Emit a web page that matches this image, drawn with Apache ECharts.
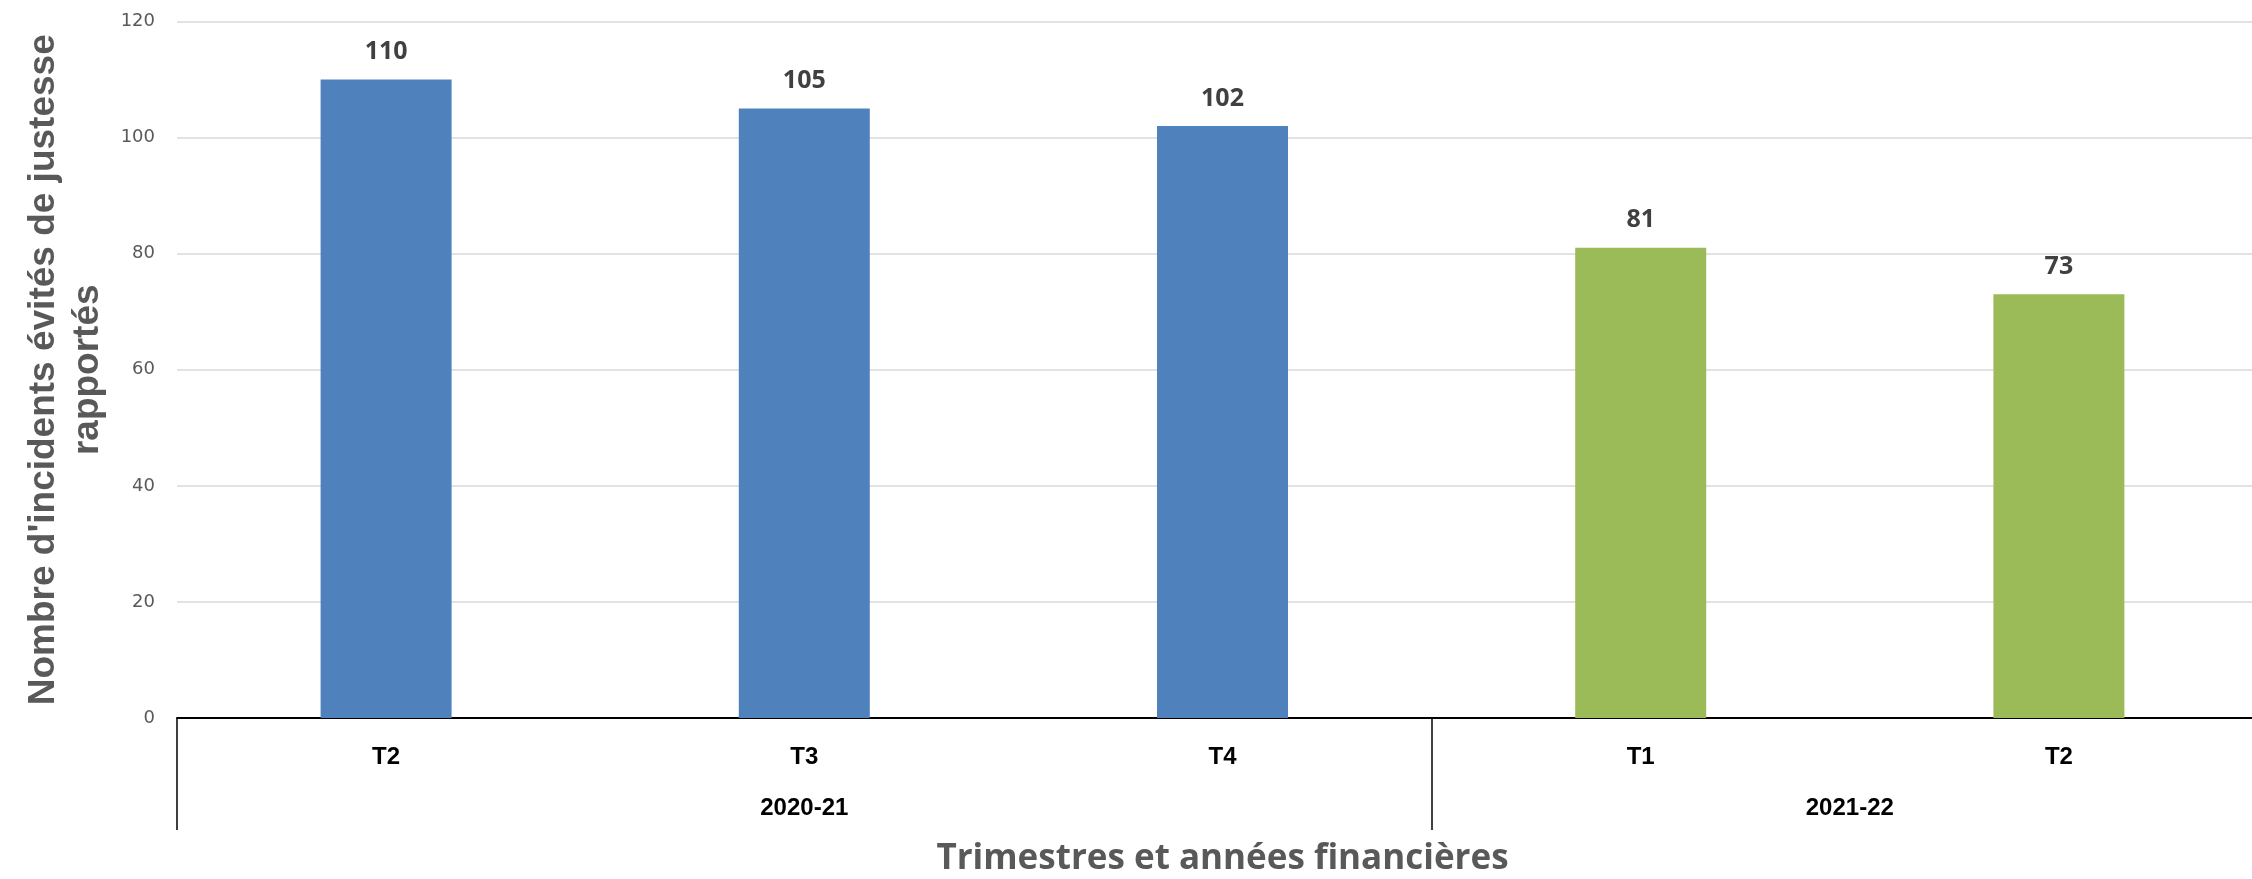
<!DOCTYPE html>
<html>
<head>
<meta charset="utf-8">
<script src="https://cdn.jsdelivr.net/npm/echarts@6/dist/echarts.min.js"></script>
<style>
  html, body { margin: 0; padding: 0; background: #fff; }
  #chart { width: 2252px; height: 879px; }
</style>
</head>
<body>
<div id="chart"></div>
<script>
// quarters and reported near-miss counts
const quarters = ['T2', 'T3', 'T4', 'T1', 'T2']
const values = [110, 105, 102, 81, 73]
// fiscal years and how many quarters each one spans
const years = ['2020-21', '2021-22']
const yearSpan = [3, 2]
const yearColors = ['#4F81BD', '#9BBB59']
const yTicks = [0, 20, 40, 60, 80, 100, 120]

// colour of each bar from the year it belongs to
const barColors = []
yearSpan.forEach((n, i) => { for (let k = 0; k < n; k++) barColors.push(yearColors[i]) })

// year axis: half-quarter slots, label in the middle of each year, tick at each year boundary
const slots = quarters.length * 2 + 1
const yearSlots = new Array(slots).fill('')
const boundarySlots = [0]
let start = 0
yearSpan.forEach((n, i) => {
  yearSlots[start + n] = years[i]
  start += n * 2
  boundarySlots.push(start)
})

const labelFont = "'Liberation Sans', sans-serif"

const chart = echarts.init(document.getElementById('chart'))
chart.setOption({
  animation: false,
  grid: { left: 177, top: 21.5, width: 2091, bottom: 161, outerBoundsMode: 'none', containLabel: false },
  xAxis: [
    {
      type: 'category',
      data: quarters,
      axisLine: { lineStyle: { color: '#000', width: 2 } },
      axisTick: { show: false },
      axisLabel: {
        margin: 27,
        fontFamily: labelFont,
        fontWeight: 'bold',
        fontSize: 24,
        color: '#000'
      }
    },
    {
      type: 'category',
      position: 'bottom',
      boundaryGap: false,
      data: yearSlots,
      axisLine: { show: false },
      axisTick: {
        show: true,
        length: 112,
        interval: (i) => boundarySlots.includes(i),
        lineStyle: { color: '#000', width: 1.5 }
      },
      axisLabel: {
        margin: 78,
        interval: (i, v) => v !== '',
        fontFamily: labelFont,
        fontWeight: 'bold',
        fontSize: 24,
        color: '#000'
      },
      name: 'Trimestres et années financières',
      nameLocation: 'middle',
      nameGap: 124,
      nameTextStyle: {
        fontFamily: "'Open Sans', sans-serif",
        fontWeight: 'bold',
        fontSize: 35,
        color: '#595959'
      }
    }
  ],
  yAxis: {
    type: 'value',
    min: yTicks[0],
    max: yTicks[yTicks.length - 1],
    interval: 20,
    axisLine: { show: false },
    axisTick: { show: false },
    splitLine: { lineStyle: { color: '#d9d9d9', width: 1.5 } },
    axisLabel: {
      margin: 22,
      fontFamily: "'DejaVu Sans', sans-serif",
      fontSize: 18,
      color: '#595959'
    },
    name: "Nombre d'incidents évités de justesse\nrapportés",
    nameLocation: 'middle',
    nameGap: 66,
    nameTextStyle: {
      fontFamily: labelFont,
      fontWeight: 'bold',
      fontSize: 37,
      lineHeight: 44,
      color: '#595959'
    }
  },
  series: [
    {
      type: 'bar',
      barWidth: 131,
      data: values.map((v, i) => ({ value: v, itemStyle: { color: barColors[i] } })),
      label: {
        show: true,
        position: 'top',
        distance: 15,
        fontFamily: "'Open Sans', sans-serif",
        fontWeight: 'bold',
        fontSize: 25,
        color: '#404040'
      }
    }
  ]
})
</script>
</body>
</html>
